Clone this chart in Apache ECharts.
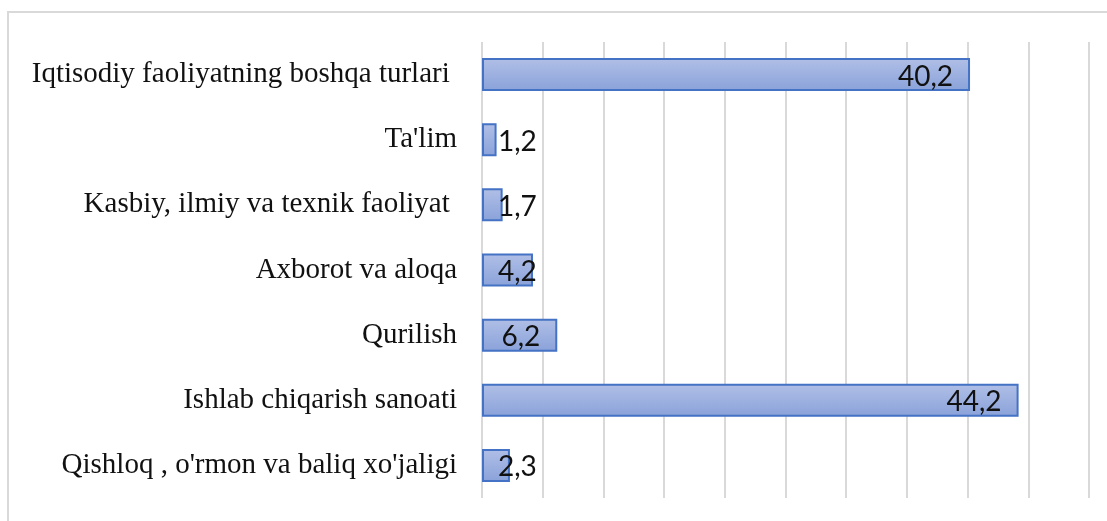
<!DOCTYPE html>
<html>
<head>
<meta charset="utf-8">
<script src="https://cdn.jsdelivr.net/npm/echarts@6/dist/echarts.min.js"></script>
<style>
  html, body { margin: 0; padding: 0; background: #fff; }
  #chart { width: 1107px; height: 521px; }
</style>
</head>
<body>
<div id="chart"></div>
<script>
// kategoriyalar (pastdan yuqoriga)
var categories = [
  "Qishloq , o'rmon va baliq xo'jaligi",
  'Ishlab chiqarish sanoati',
  'Qurilish',
  'Axborot va aloqa',
  'Kasbiy, ilmiy va texnik faoliyat ',
  "Ta'lim",
  'Iqtisodiy faoliyatning boshqa turlari '
];
var values = [2.3, 44.2, 6.2, 4.2, 1.7, 1.2, 40.2];
var axisMax = 50;
var axisStep = 5;

var myChart = echarts.init(document.getElementById('chart'));

// kichik ustunlarda yozuv chapga suriladi (Excel kabi)
var barData = values.map(function (v) {
  return {
    value: v,
    label: v < 5 ? { position: 'insideLeft', distance: 16 } : { position: 'insideRight', distance: 17 }
  };
});

var option = {
  animation: false,
  backgroundColor: '#fff',
  graphic: [{
    type: 'rect',
    shape: { x: 8, y: 12, width: 1300, height: 700 },
    style: { fill: 'none', stroke: '#d9d9d9', lineWidth: 2 },
    silent: true
  }],
  grid: { left: 482, right: 18, top: 42, bottom: 23 },
  xAxis: {
    type: 'value',
    min: 0,
    max: axisMax,
    interval: axisStep,
    axisLabel: { show: false },
    axisLine: { show: false },
    axisTick: { show: false },
    splitLine: { show: true, lineStyle: { color: '#d9d9d9', width: 2 } }
  },
  yAxis: {
    type: 'category',
    data: categories,
    axisLine: { show: false },
    axisTick: { show: false },
    axisLabel: {
      margin: 25,
      color: '#111',
      fontFamily: 'Liberation Serif',
      fontSize: 29
    }
  },
  series: [{
    type: 'bar',
    data: barData,
    barWidth: 33,
    itemStyle: {
      color: new echarts.graphic.LinearGradient(0, 0, 0, 1, [
        { offset: 0, color: '#b0bfe6' },
        { offset: 1, color: '#8aa2da' }
      ]),
      borderColor: '#4472c4',
      borderWidth: 2
    },
    label: {
      show: true,
      color: '#111',
      fontFamily: 'Lato',
      fontSize: 28,
      offset: [0, 2],
      formatter: function (p) {
        return String(p.value).replace('.', ',');
      }
    }
  }]
};

myChart.setOption(option);
</script>
</body>
</html>
